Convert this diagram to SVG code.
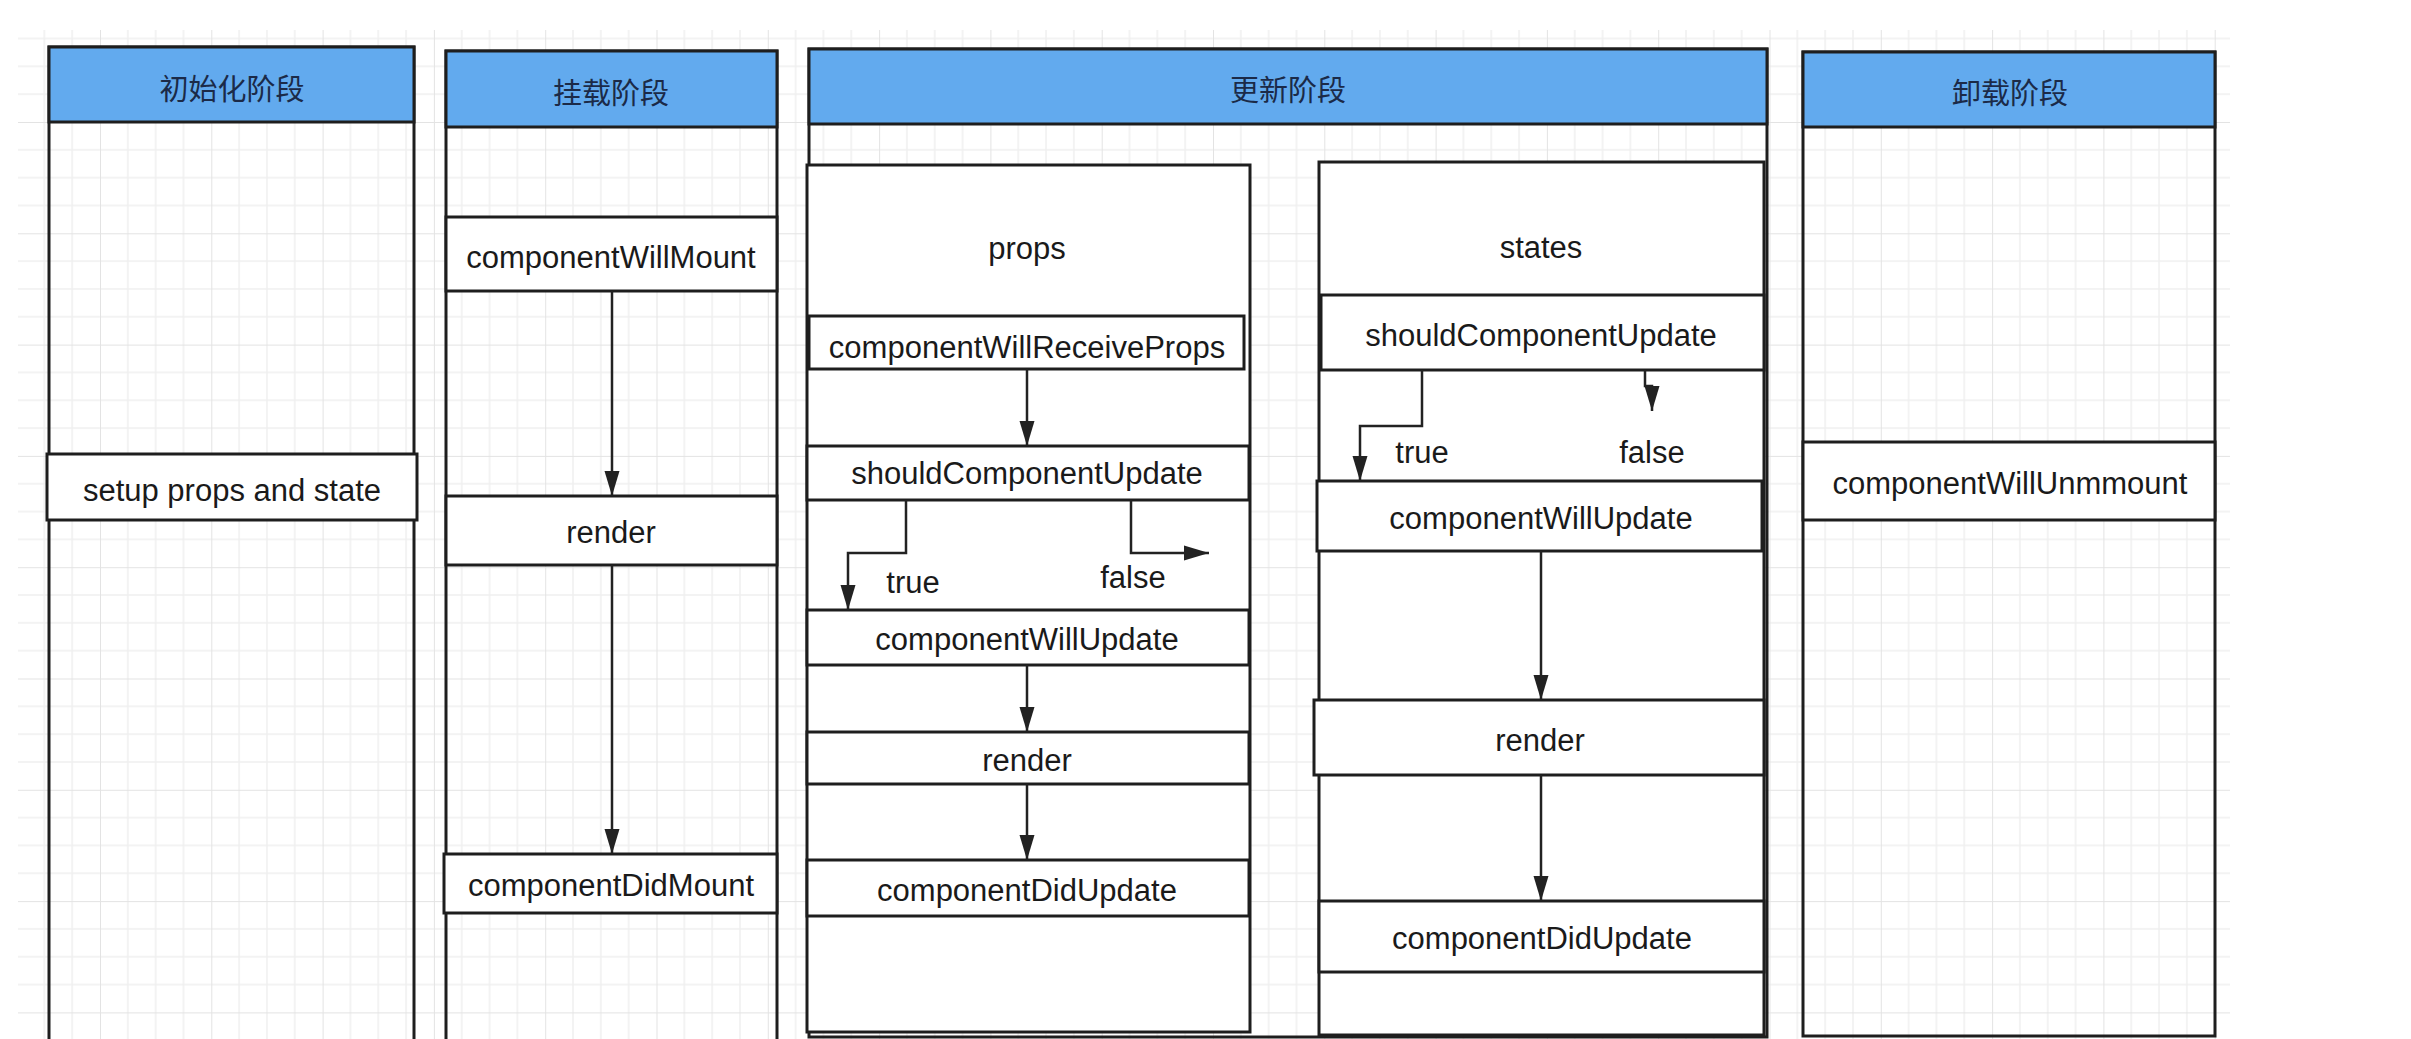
<svg xmlns="http://www.w3.org/2000/svg" width="2411" height="1039" viewBox="0 0 2411 1039">
<defs>
<style>
.box{fill:#ffffff;stroke:#1e1e1e;stroke-width:3}
.col{fill:none;stroke:#1e1e1e;stroke-width:3}
.hdr{fill:#62aaee;stroke:#1e1e1e;stroke-width:3}
.t{font-family:"Liberation Sans",Arial,sans-serif;font-size:31px;fill:#1a1a1a;text-anchor:middle;dominant-baseline:central}
.h{font-family:"Noto Sans CJK SC","Liberation Sans",sans-serif;font-size:29px;fill:#1b2a48;text-anchor:middle;dominant-baseline:central}
.c{fill:none;stroke:#222222;stroke-width:2.5}
</style>
<marker id="arr" markerUnits="userSpaceOnUse" markerWidth="25" markerHeight="16" refX="25" refY="8" orient="auto" viewBox="0 0 25 16">
<path d="M0,0.5 L25,8 L0,15.5 z" fill="#222222"/>
</marker>
<pattern id="grid" patternUnits="userSpaceOnUse" x="100" y="122" width="111.3" height="111.3">
<path d="M27.83,0 V111.3 M55.65,0 V111.3 M83.48,0 V111.3 M0,27.83 H111.3 M0,55.65 H111.3 M0,83.48 H111.3" stroke="#f0f0f0" stroke-width="1.5" fill="none"/>
<path d="M0,0 V111.3 M0,0 H111.3" stroke="#e3e3e3" stroke-width="2" fill="none"/>
</pattern>
</defs>
<rect x="0" y="0" width="2411" height="1039" fill="#ffffff"/>
<rect x="18" y="30" width="2212" height="1009" fill="url(#grid)"/>

<g id="col-init">
<rect class="col" x="49" y="47" width="365" height="1000"/>
<rect class="hdr" x="49" y="47" width="365" height="75"/>
<text class="h" x="232" y="87">初始化阶段</text>
</g>
<g id="node-setup">
<rect class="box" x="47" y="454" width="370" height="66"/>
<text class="t" x="232" y="490">setup props and state</text>
</g>

<g id="col-mount">
<rect class="col" x="446" y="51" width="331" height="996"/>
<rect class="hdr" x="446" y="51" width="331" height="76"/>
<text class="h" x="611" y="91">挂载阶段</text>
</g>
<g id="node-willmount">
<rect class="box" x="446" y="217" width="331" height="74"/>
<text class="t" x="611" y="257">componentWillMount</text>
</g>
<g id="node-render-mount">
<rect class="box" x="446" y="496" width="331" height="69"/>
<text class="t" x="611" y="532">render</text>
</g>
<g id="node-didmount">
<rect class="box" x="444" y="854" width="333" height="59"/>
<text class="t" x="611" y="885">componentDidMount</text>
</g>

<g id="col-update">
<rect class="col" x="809" y="49" width="958" height="988"/>
<rect class="hdr" x="809" y="49" width="958" height="75"/>
<text class="h" x="1288" y="88">更新阶段</text>
</g>
<g id="node-props">
<rect class="box" x="807" y="165" width="443" height="867"/>
<text class="t" x="1027" y="248">props</text>
</g>
<g id="node-willreceive">
<rect class="box" x="809" y="316" width="435" height="53"/>
<text class="t" x="1027" y="347">componentWillReceiveProps</text>
</g>
<g id="node-should-props">
<rect class="box" x="807" y="446" width="442" height="54"/>
<text class="t" x="1027" y="473">shouldComponentUpdate</text>
</g>
<g id="node-willupdate-props">
<rect class="box" x="807" y="610" width="442" height="55"/>
<text class="t" x="1027" y="639">componentWillUpdate</text>
</g>
<g id="node-render-props">
<rect class="box" x="807" y="732" width="442" height="52"/>
<text class="t" x="1027" y="760">render</text>
</g>
<g id="node-didupdate-props">
<rect class="box" x="807" y="860" width="442" height="56"/>
<text class="t" x="1027" y="890">componentDidUpdate</text>
</g>

<g id="node-states">
<rect class="box" x="1319" y="162" width="445" height="873"/>
<text class="t" x="1541" y="247">states</text>
</g>
<g id="node-should-states">
<rect class="box" x="1321" y="295" width="443" height="75"/>
<text class="t" x="1541" y="335">shouldComponentUpdate</text>
</g>
<g id="node-willupdate-states">
<rect class="box" x="1317" y="481" width="445" height="70"/>
<text class="t" x="1541" y="518">componentWillUpdate</text>
</g>
<g id="node-render-states">
<rect class="box" x="1314" y="700" width="450" height="75"/>
<text class="t" x="1540" y="740">render</text>
</g>
<g id="node-didupdate-states">
<rect class="box" x="1319" y="901" width="445" height="71"/>
<text class="t" x="1542" y="938">componentDidUpdate</text>
</g>

<g id="col-unmount">
<rect class="col" x="1803" y="52" width="412" height="984"/>
<rect class="hdr" x="1803" y="52" width="412" height="75"/>
<text class="h" x="2010" y="91">卸载阶段</text>
</g>
<g id="node-willunmount">
<rect class="box" x="1803" y="442" width="412" height="78"/>
<text class="t" x="2010" y="483">componentWillUnmmount</text>
</g>

<g id="connectors">
<path class="c" d="M612,291 V496" marker-end="url(#arr)"/>
<path class="c" d="M612,565 V854" marker-end="url(#arr)"/>
<path class="c" d="M1027,369 V446" marker-end="url(#arr)"/>
<path class="c" d="M906,500 V553 H848 V610" marker-end="url(#arr)"/>
<path class="c" d="M1131,500 V553 H1209" marker-end="url(#arr)"/>
<path class="c" d="M1027,665 V732" marker-end="url(#arr)"/>
<path class="c" d="M1027,784 V860" marker-end="url(#arr)"/>
<path class="c" d="M1422,370 V426 H1360 V481" marker-end="url(#arr)"/>
<path class="c" d="M1645,370 V386 H1652 V411" marker-end="url(#arr)"/>
<path class="c" d="M1541,551 V700" marker-end="url(#arr)"/>
<path class="c" d="M1541,775 V901" marker-end="url(#arr)"/>
<text class="t" x="913" y="582">true</text>
<text class="t" x="1133" y="577">false</text>
<text class="t" x="1422" y="452">true</text>
<text class="t" x="1652" y="452">false</text>
</g>
</svg>
